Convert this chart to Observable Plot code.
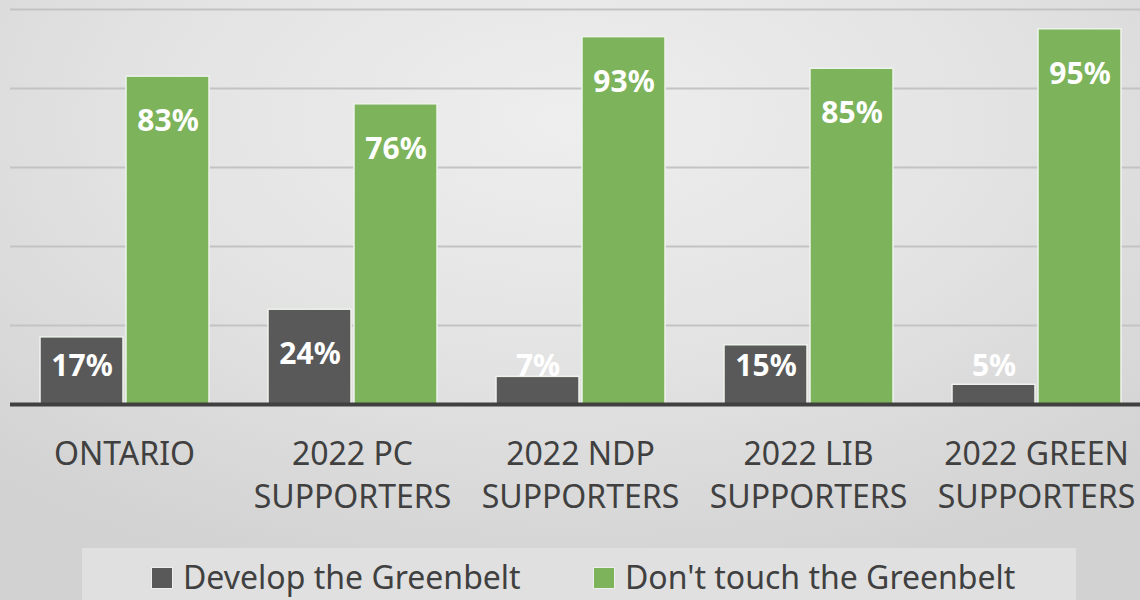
<!DOCTYPE html>
<html><head><meta charset="utf-8">
<script src="https://cdn.jsdelivr.net/npm/d3@7"></script>
<script src="https://cdn.jsdelivr.net/npm/@observablehq/plot@0.6"></script>
<style>
html,body{margin:0;padding:0;width:1140px;height:600px;overflow:hidden;}
body{background: radial-gradient(ellipse 75% 80% at 50% 20%, #eeeeee 0%, #e3e3e3 50%, #d2d2d2 100%); font-family:"Noto Sans", "Liberation Sans", sans-serif;}
#chart svg{display:block;background:transparent;overflow:hidden;}
#legend{position:relative;margin-left:82px;width:994px;height:52px;background:#e0e0e0;color:#404040;font-size:32px;line-height:32px;overflow:hidden;}
#legend .item{position:absolute;top:13px;white-space:nowrap;}
#legend .sw{display:inline-block;width:20px;height:20px;border:1px solid #eeeeee;margin-right:10px;vertical-align:baseline;}
</style></head>
<body><div id="chart"></div><div id="legend"></div>
<script>
const categories = ["ONTARIO", "2022 PC\nSUPPORTERS", "2022 NDP\nSUPPORTERS", "2022 LIB\nSUPPORTERS", "2022 GREEN\nSUPPORTERS"];
const series = ["Develop the Greenbelt", "Don't touch the Greenbelt"];
const develop = [17, 24, 7, 15, 5];
const dontTouch = [83, 76, 93, 85, 95];
const gridTicks = [20, 40, 60, 80, 100];
const colors = ["#595959", "#7cb35b"];

const data = categories.flatMap((c, i) => [
  {category: c, series: series[0], value: develop[i]},
  {category: c, series: series[1], value: dontTouch[i]}
]);

const chart = Plot.plot({
  width: 1140,
  height: 548,
  marginLeft: 10,
  marginRight: -10,
  marginTop: 9,
  marginBottom: 144,
  style: {background: "transparent", fontFamily: "'Noto Sans', 'Liberation Sans', sans-serif"},
  fx: {domain: categories, padding: 0, label: null},
  x: {domain: series, paddingInner: 0.035, paddingOuter: 0.343, axis: null},
  y: {domain: [0, 100], axis: null},
  color: {domain: series, range: colors},
  marks: [
    Plot.ruleY(gridTicks, {stroke: "#c3c3c3", strokeWidth: 2}),
    Plot.barY(data, {fx: "category", x: "series", y: "value", fill: "series", stroke: "#eef2ec", strokeWidth: 1.5}),
    Plot.ruleY([0], {stroke: "#404040", strokeWidth: 4}),
    Plot.text(data, {fx: "category", x: "series", y: d => Math.max(d.value - 11.4, 9.6), text: d => d.value + "%", fill: "white", fontWeight: "bold", fontSize: 30}),
    Plot.axisFx({anchor: "bottom", tickSize: 0, tickPadding: 30, lineAnchor: "top", lineHeight: 1.34, fontSize: 32, fill: "#404040", label: null})
  ]
});
document.getElementById("chart").append(chart);

const legend = document.getElementById("legend");
const legendLeft = [69, 511];
series.forEach((s, i) => {
  const item = document.createElement("div");
  item.className = "item";
  item.style.left = legendLeft[i] + "px";
  const sw = document.createElement("span");
  sw.className = "sw";
  sw.style.background = colors[i];
  const t = document.createElement("span");
  t.textContent = s;
  item.append(sw, t);
  legend.append(item);
});
</script>
</body></html>
